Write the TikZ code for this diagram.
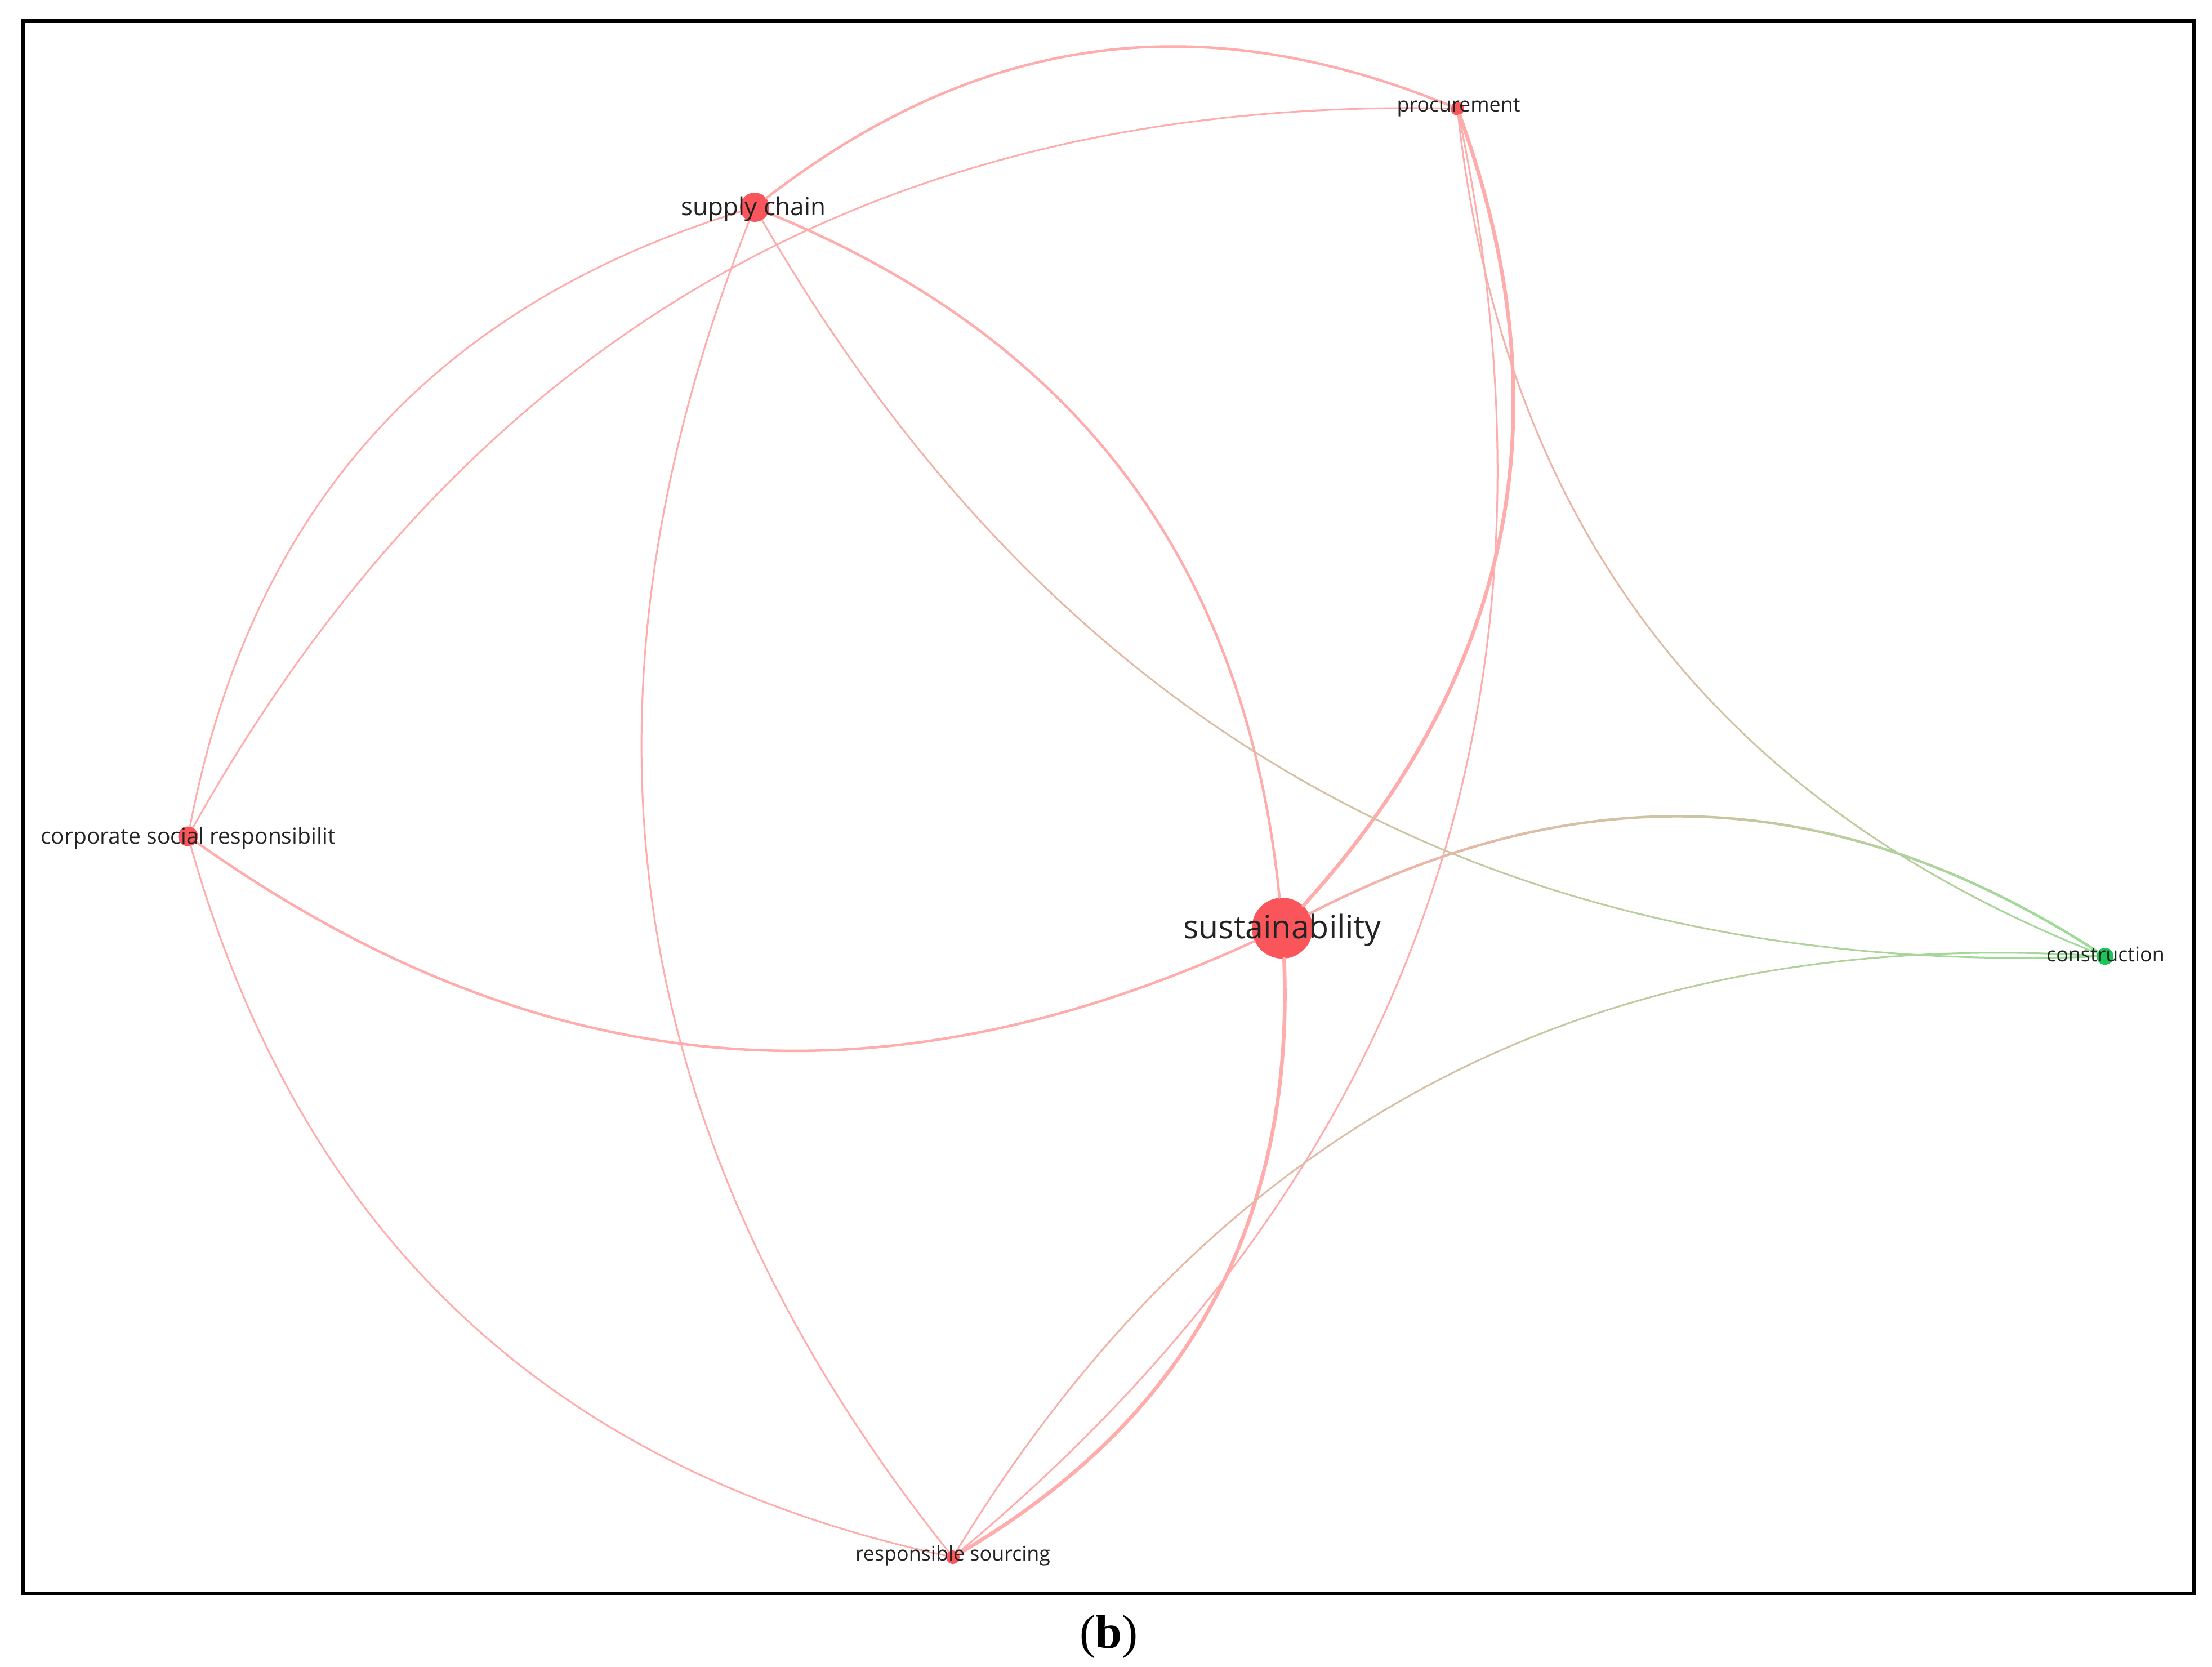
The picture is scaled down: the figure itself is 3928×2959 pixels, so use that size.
\documentclass[tikz,border=0pt]{standalone}
\usepackage{fontspec}
\setmainfont{Open Sans}
\newfontfamily\capfont{Liberation Serif}
\definecolor{edgered}{RGB}{255,172,172}
\definecolor{edgegreen}{RGB}{150,222,150}
\definecolor{nodered}{RGB}{250,85,90}
\definecolor{nodegreen}{RGB}{30,195,90}
\definecolor{labelgray}{RGB}{35,35,35}
\tikzset{
  dot/.style={circle, inner sep=0pt, draw=none, fill=nodered},
  lab/.style={text=labelgray, inner sep=0pt, font=\fontsize{10.2}{12}\selectfont},
  lnk/.style={draw=edgered, line width=0.03cm, line cap=round},
  lnkmid/.style={lnk, line width=0.045cm},
  lnkthick/.style={lnk, line width=0.065cm},
}
% gradient link: #1 from, #2 to, #3 bend, #4 x start, #5 x end, #6 width style
\newcommand{\gradlink}[6]{%
  \pgfmathsetmacro\gstep{(#5-#4)/14}%
  \foreach \i in {0,...,13} {%
    \pgfmathsetmacro\xa{#4+\gstep*\i}%
    \pgfmathsetmacro\xb{#4+\gstep*(\i+1)}%
    \pgfmathtruncatemacro\pc{100-100*(\i+0.5)/14}%
    \begin{scope}
      \clip (\xa,0) rectangle (\xb,2959);
      \draw[#6, draw=edgered!\pc!edgegreen] (#1) to[#3] (#2);
    \end{scope}
  }%
}
\begin{document}
\begin{tikzpicture}[x=0.01cm,y=-0.01cm]
\useasboundingbox (0,0) rectangle (3928,2959);
\fill[white] (0,0) rectangle (3928,2959);
\draw[line width=0.07cm] (41.5,36.5) rectangle (3896.5,2829.5);

% nodes (circles)
\node[dot, minimum size=1.08cm] (S) at (2277,1648) {};
\node[dot, minimum size=0.52cm] (SC) at (1340,368) {};
\node[dot, minimum size=0.24cm] (P) at (2588,193) {};
\node[dot, minimum size=0.35cm] (CSR) at (334,1485) {};
\node[dot, minimum size=0.30cm, fill=nodegreen] (C) at (3738,1698) {};
\node[dot, minimum size=0.24cm] (RS) at (1692,2765) {};

% red-red links
\draw[lnkmid] (SC) to[bend left=30] (P);
\draw[lnk] (CSR) to[bend left=31] (P);
\draw[lnk] (CSR) to[bend left=31] (SC);
\draw[lnkmid] (SC) to[bend left=31] (S);
\draw[lnk] (SC) to[bend right=30] (RS);
\draw[lnkthick] (P) to[bend left=31] (S);
\draw[lnk] (P) to[bend left=31] (RS);
\draw[lnkmid] (CSR) to[bend right=30] (S);
\draw[lnk] (CSR) to[bend right=31] (RS);
\draw[lnkthick] (S) to[bend left=31] (RS);

% links to construction (red to green)
\gradlink{SC}{C}{bend right=31}{1290}{3790}{lnk}
\gradlink{P}{C}{bend right=31}{2540}{3790}{lnk}
\gradlink{S}{C}{bend left=30}{2220}{3790}{lnkmid}
\gradlink{RS}{C}{bend left=31}{1640}{3790}{lnk}

% labels
\node[lab, font=\fontsize{16.3}{19}\selectfont] (Slab) at (2277,1652) {sustainability};
\node[lab, font=\fontsize{12.5}{15}\selectfont] (SClab) at (1338,371) {supply chain};
\node[lab] (Plab) at (2590,191) {procurement};
\node[lab, font=\fontsize{11.1}{13}\selectfont] (CSRlab) at (334,1488) {corporate social responsibilit};
\node[lab] (Clab) at (3739,1694) {construction};
\node[lab] (RSlab) at (1692,2762) {responsible sourcing};

% caption
\node[inner sep=0pt] (cap) at (1969,2906) {\capfont\fontsize{24}{28}\selectfont(\textbf{b})};
\end{tikzpicture}
\end{document}
